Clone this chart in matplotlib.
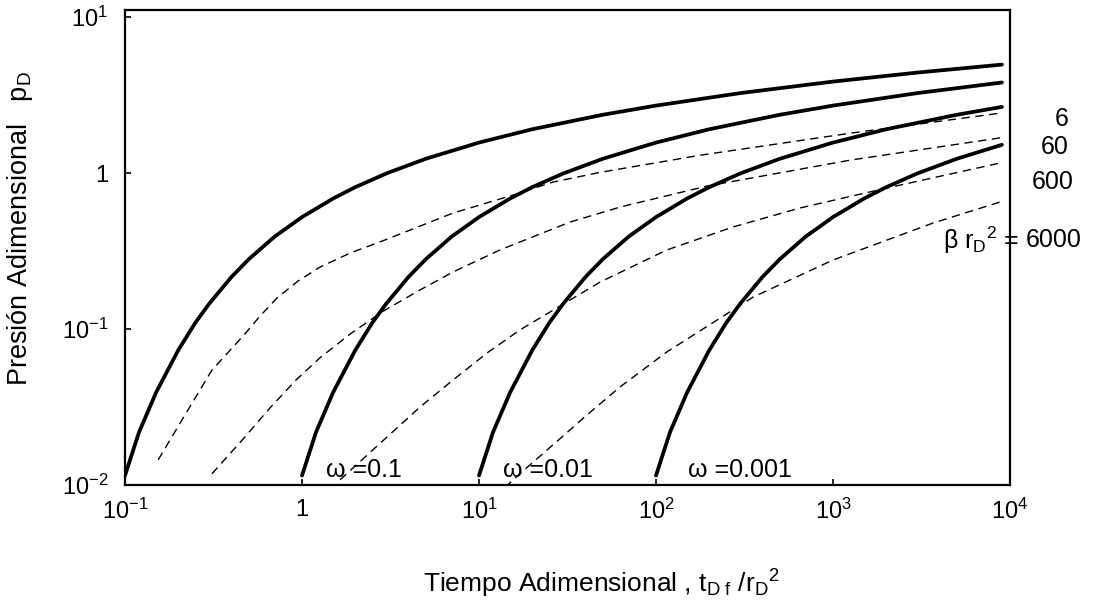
import matplotlib
matplotlib.use("Agg")
import matplotlib.pyplot as plt

plt.rcParams['font.family'] = ['Liberation Sans', 'DejaVu Sans']
plt.rcParams['mathtext.fontset'] = 'custom'
plt.rcParams['mathtext.rm'] = 'Liberation Sans'
plt.rcParams['mathtext.it'] = 'Liberation Sans:italic'

# solid curves: fracture response for each omega (t_D/r_D^2, p_D)
t_w1 = [0.1, 0.12, 0.15, 0.2, 0.25, 0.3, 0.4, 0.5, 0.7, 1, 1.5, 2, 3, 5, 10, 20, 50, 100, 300, 1000, 3000, 9000]
p_w1 = [0.0115, 0.0218, 0.0393, 0.0732, 0.110, 0.146, 0.216, 0.280, 0.391, 0.522, 0.687, 0.812, 0.995,
        1.234, 1.568, 1.909, 2.363, 2.707, 3.256, 3.858, 4.408, 4.957]

t_w01 = [1, 1.2, 1.5, 2, 2.5, 3, 4, 5, 7, 10, 15, 20, 30, 50, 100, 200, 500, 1000, 3000, 9000]
p_w01 = [0.0115, 0.0218, 0.0393, 0.0732, 0.110, 0.146, 0.216, 0.280, 0.391, 0.522, 0.687, 0.812, 0.995,
         1.234, 1.568, 1.909, 2.363, 2.707, 3.256, 3.806]

t_w001 = [10, 12, 15, 20, 25, 30, 40, 50, 70, 100, 150, 200, 300, 500, 1000, 2000, 5000, 9000]
p_w001 = [0.0115, 0.0218, 0.0393, 0.0732, 0.110, 0.146, 0.216, 0.280, 0.391, 0.522, 0.687, 0.812, 0.995,
          1.234, 1.568, 1.909, 2.363, 2.655]

t_w0001 = [100, 120, 150, 200, 250, 300, 400, 500, 700, 1000, 1500, 2000, 3000, 5000, 9000]
p_w0001 = [0.0115, 0.0218, 0.0393, 0.0732, 0.110, 0.146, 0.216, 0.280, 0.391, 0.522, 0.687, 0.812, 0.995,
           1.234, 1.517]

# dashed curves: beta*rD^2 = 6, 60, 600, 6000
t_b6 = [0.154, 0.218, 0.310, 0.470, 0.579, 0.722, 0.949, 1.26, 1.87, 2.94, 7.13, 15.6, 26.2, 48.3, 177, 1250, 8790]
p_b6 = [0.0145, 0.0281, 0.0546, 0.0915, 0.121, 0.158, 0.203, 0.249, 0.307, 0.372, 0.554, 0.723, 0.875,
        1.01, 1.30, 1.80, 2.42]

t_b60 = [0.310, 0.470, 0.659, 0.925, 1.26, 1.87, 2.87, 4.64, 7.13, 13.1, 32.7, 62.6, 194, 1250, 8790]
p_b60 = [0.0118, 0.0200, 0.0312, 0.0471, 0.0652, 0.0929, 0.130, 0.178, 0.232, 0.321, 0.485, 0.605, 0.825,
         1.21, 1.68]

t_b600 = [1.64, 3.02, 4.64, 7.13, 11.1, 17.0, 26.2, 48.3, 115, 272, 651, 2020, 8790]
p_b600 = [0.0108, 0.0203, 0.0316, 0.0471, 0.0702, 0.0985, 0.132, 0.200, 0.321, 0.451, 0.597, 0.802, 1.16]

t_b6000 = [12.3, 17.0, 26.2, 40.7, 62.6, 115, 353, 1000, 3670, 8790]
p_b6000 = [0.0084, 0.0118, 0.0181, 0.0281, 0.0425, 0.0712, 0.160, 0.277, 0.478, 0.652]

x_ticks = [0.1, 1, 10, 100, 1000, 10000]
x_ticklabels = ['$10^{-1}$', '1', '$10^{1}$', '$10^{2}$', '$10^{3}$', '$10^{4}$']
y_ticks = [0.01, 0.1, 1, 10]
y_ticklabels = ['$10^{-2}$', '$10^{-1}$', '1', '$10^{1}$']

fig = plt.figure(figsize=(11, 6.09), dpi=100)
ax = fig.add_axes([125 / 1100, 124 / 609, 885 / 1100, 475 / 609])

solid = dict(color='black', lw=2.7, solid_capstyle='round', solid_joinstyle='round')
for t, p in [(t_w1, p_w1), (t_w01, p_w01), (t_w001, p_w001), (t_w0001, p_w0001)]:
    ax.plot(t, p, **solid)

dash = dict(color='black', lw=1.0, dashes=(6, 4))
for t, p in [(t_b6, p_b6), (t_b60, p_b60), (t_b600, p_b600), (t_b6000, p_b6000)]:
    ax.plot(t, p, **dash)

ax.set_xscale('log')
ax.set_yscale('log')
ax.set_xlim(0.1, 10000)
ax.set_ylim(0.01, 11.1)
ax.set_xticks(x_ticks)
ax.set_xticklabels(x_ticklabels, fontsize=17)
ax.set_yticks(y_ticks)
ax.set_yticklabels(y_ticklabels, fontsize=17)
ax.minorticks_off()
ax.tick_params(direction='in', length=4, width=1.2)
ax.tick_params(axis='x', pad=10)
ax.tick_params(axis='y', pad=12)
for s in ax.spines.values():
    s.set_linewidth(1.6)

ax.set_ylabel(r'Presión Adimensional   $\mathrm{p_D}$', fontsize=19.5)
ax.yaxis.set_label_coords(-0.102, 0.54)
ax.set_xlabel(r'Tiempo Adimensional , t$_{\mathrm{D\,\,f}}$ /r$_\mathrm{D}$$^2$', fontsize=19)
ax.xaxis.set_label_coords(0.538, -0.175)

# omega labels along the bottom
ax.text((326 - 125) / 885, (485 - 470) / 475, 'ω =0.1', transform=ax.transAxes,
        fontsize=18, va='center', ha='left')
ax.text((503 - 125) / 885, (485 - 470) / 475, 'ω =0.01', transform=ax.transAxes,
        fontsize=18, va='center', ha='left')
ax.text((688 - 125) / 885, (485 - 470) / 475, 'ω =0.001', transform=ax.transAxes,
        fontsize=18, va='center', ha='left')

# beta rD^2 labels on the right
fig.text(1062 / 1100, 1 - 119 / 609, '6', fontsize=18, ha='center', va='center')
fig.text(1055 / 1100, 1 - 147 / 609, '60', fontsize=18, ha='center', va='center')
fig.text(1053 / 1100, 1 - 182 / 609, '600', fontsize=18, ha='center', va='center')
fig.text(1019 / 1100, 1 - 240 / 609, r'β r$_\mathrm{D}$$^2$ =', fontsize=18, ha='right', va='center')
fig.text(1026 / 1100, 1 - 240 / 609, '6000', fontsize=18, ha='left', va='center')

fig.savefig('out.png', dpi=100)
